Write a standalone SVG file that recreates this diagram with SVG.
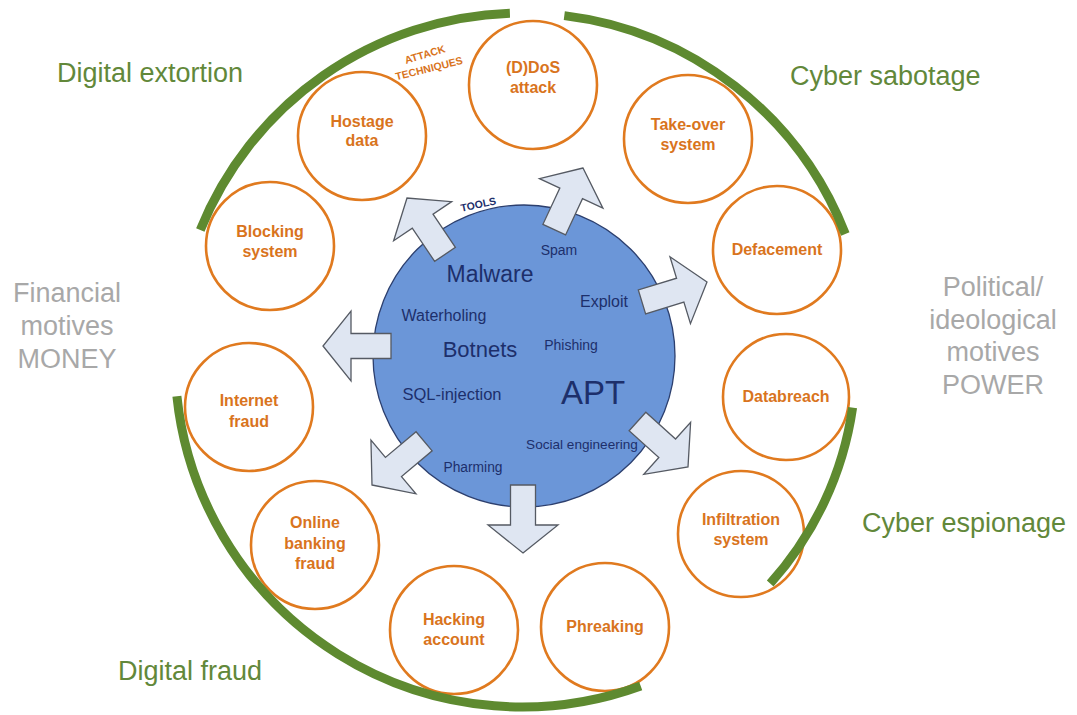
<svg xmlns="http://www.w3.org/2000/svg" width="1077" height="715" viewBox="0 0 1077 715">
  <defs>
    <style>
      text { font-family: "Liberation Sans", Arial, sans-serif; }
      .node circle { fill: #ffffff; stroke: #e07a1f; stroke-width: 2.6; }
      .node text { font-size: 16px; font-weight: bold; fill: #d9741d; text-anchor: middle; }
      .band { fill: none; stroke: #5e8a30; stroke-width: 9; stroke-linecap: butt; }
      .cat { font-size: 27px; fill: #62883a; }
      .motive { font-size: 27px; fill: #a8a8a8; text-anchor: middle; }
      .tool { fill: #1d2f6b; text-anchor: middle; }
      .arrow { fill: #dfe6f2; stroke: #555a63; stroke-width: 1.3; stroke-linejoin: miter; }
      .small { font-size: 10.5px; font-weight: bold; text-anchor: middle; }
    </style>
    <!-- block arrow, tip at the origin, pointing along +x -->
    <polygon id="blockArrow" class="arrow" points="0,0 -28,-35 -28,-12.5 -68,-12.5 -68,12.5 -28,12.5 -28,35"/>
  </defs>

  <rect width="1077" height="715" fill="#ffffff"/>

  <!-- category labels -->
  <text class="cat" x="57" y="82">Digital extortion</text>
  <text class="cat" x="790" y="85">Cyber sabotage</text>
  <text class="cat" x="262" y="680" text-anchor="end">Digital fraud</text>
  <text class="cat" x="862" y="532">Cyber espionage</text>

  <!-- motives -->
  <g id="motive-money">
    <text class="motive" x="67" y="302">Financial</text>
    <text class="motive" x="67" y="335">motives</text>
    <text class="motive" x="67" y="368">MONEY</text>
  </g>
  <g id="motive-power">
    <text class="motive" x="993" y="296">Political/</text>
    <text class="motive" x="993" y="329">ideological</text>
    <text class="motive" x="993" y="361">motives</text>
    <text class="motive" x="993" y="394">POWER</text>
  </g>

  <!-- attack technique nodes -->
  <g id="node-ddos" class="node">
    <circle cx="533" cy="85" r="64"/>
    <text x="533" y="73">(D)DoS</text>
    <text x="533" y="93">attack</text>
  </g>
  <g id="node-hostage" class="node">
    <circle cx="362" cy="136" r="64"/>
    <text x="362" y="127">Hostage</text>
    <text x="362" y="146">data</text>
  </g>
  <g id="node-takeover" class="node">
    <circle cx="688" cy="139" r="64"/>
    <text x="688" y="130">Take-over</text>
    <text x="688" y="150">system</text>
  </g>
  <g id="node-defacement" class="node">
    <circle cx="777" cy="250" r="64"/>
    <text x="777" y="255">Defacement</text>
  </g>
  <g id="node-blocking" class="node">
    <circle cx="270" cy="246" r="64"/>
    <text x="270" y="237">Blocking</text>
    <text x="270" y="257">system</text>
  </g>
  <g id="node-internet-fraud" class="node">
    <circle cx="249" cy="407" r="64"/>
    <text x="249" y="406">Internet</text>
    <text x="249" y="427">fraud</text>
  </g>
  <g id="node-online-banking" class="node">
    <circle cx="315" cy="545" r="64"/>
    <text x="315" y="528">Online</text>
    <text x="315" y="549">banking</text>
    <text x="315" y="569">fraud</text>
  </g>
  <g id="node-hacking" class="node">
    <circle cx="454" cy="630" r="64"/>
    <text x="454" y="625">Hacking</text>
    <text x="454" y="645">account</text>
  </g>
  <g id="node-phreaking" class="node">
    <circle cx="605" cy="627" r="64"/>
    <text x="605" y="632">Phreaking</text>
  </g>
  <g id="node-infiltration" class="node">
    <circle cx="741" cy="534" r="63"/>
    <text x="741" y="525">Infiltration</text>
    <text x="741" y="545">system</text>
  </g>
  <g id="node-databreach" class="node">
    <circle cx="786" cy="397" r="63"/>
    <text x="786" y="402">Databreach</text>
  </g>

  <!-- motive bands -->
  <g id="bands">
    <path class="band" d="M 200.3 230 A 347 347 0 0 1 509.9 13.2"/>
    <path class="band" d="M 564.3 15.6 A 347 347 0 0 1 845.3 234"/>
    <path class="band" d="M 640.7 686 A 347 347 0 0 1 176.9 396.3"/>
    <path class="band" d="M 852.6 407.6 A 334 334 0 0 1 770.2 583.5"/>
  </g>

  <text class="small" fill="#d9741d" transform="translate(426 58) rotate(-17)">ATTACK</text>
  <text class="small" fill="#d9741d" transform="translate(430 72) rotate(-14)">TECHNIQUES</text>

  <!-- tools hub -->
  <g id="node-tools">
    <circle cx="524" cy="356" r="151" fill="#6b96d8" stroke="#2c3f6e" stroke-width="1.3"/>
    <text class="small" fill="#1d2f6b" transform="translate(479 208) rotate(-12)">TOOLS</text>
    <text class="tool" x="490" y="282" font-size="23">Malware</text>
    <text class="tool" x="559" y="255" font-size="14">Spam</text>
    <text class="tool" x="604" y="307" font-size="16">Exploit</text>
    <text class="tool" x="444" y="321" font-size="16">Waterholing</text>
    <text class="tool" x="480" y="357" font-size="22">Botnets</text>
    <text class="tool" x="571" y="350" font-size="14">Phishing</text>
    <text class="tool" x="452" y="400" font-size="16.5">SQL-injection</text>
    <text class="tool" x="593" y="404" font-size="33" fill="#13266a">APT</text>
    <text class="tool" x="582" y="449" font-size="13.6">Social engineering</text>
    <text class="tool" x="473" y="472" font-size="13.8">Pharming</text>
  </g>

  <!-- arrows from the hub -->
  <g id="connectors">
    <use href="#blockArrow" transform="translate(407 198) rotate(236)"/>
    <use href="#blockArrow" transform="translate(583 168) rotate(-65)"/>
    <use href="#blockArrow" transform="translate(707 282) rotate(-17)"/>
    <use href="#blockArrow" transform="translate(688 467) rotate(42)"/>
    <use href="#blockArrow" transform="translate(523 553) rotate(90)"/>
    <use href="#blockArrow" transform="translate(372 485) rotate(140)"/>
    <use href="#blockArrow" transform="translate(323 346) rotate(180)"/>
  </g>
</svg>
